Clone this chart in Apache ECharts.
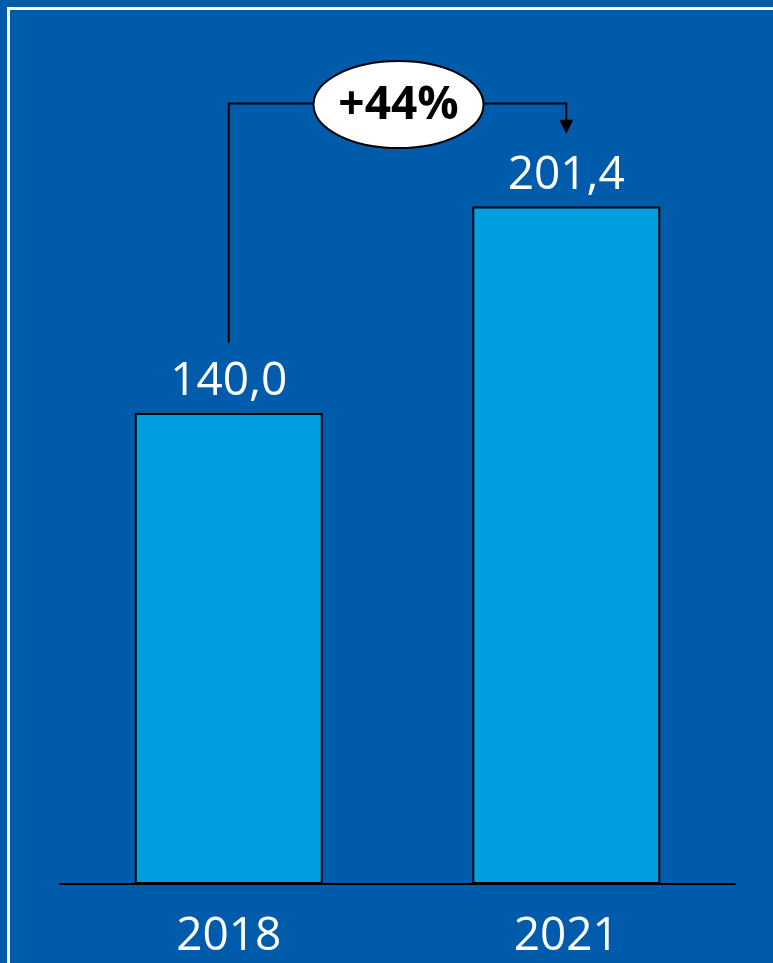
<!DOCTYPE html>
<html>
<head>
<meta charset="utf-8">
<script src="https://cdn.jsdelivr.net/npm/echarts@6/dist/echarts.min.js"></script>
<style>
html,body{margin:0;padding:0;background:#005BAA;}
#c{width:773px;height:963px;}
</style>
</head>
<body>
<div id="c"></div>
<script>
const categories = ['2018', '2021'];
const values = [140.0, 201.4];
const valueLabels = ['140,0', '201,4'];
const growthLabel = '+44%';
// annotation levels in value units
const bracketLow = 161;
const bracketHigh = 232;
const arrowTip = 223;

const FONT = '"Open Sans", "Liberation Sans", sans-serif';
const chart = echarts.init(document.getElementById('c'), null, {renderer: 'canvas'});

const option = {
  backgroundColor: '#005BAA',
  animation: false,
  grid: {left: 60, right: 38, top: 43, bottom: 79, containLabel: false},
  xAxis: {
    type: 'category',
    data: categories,
    axisLine: {lineStyle: {color: '#000', width: 2}},
    axisTick: {show: false},
    axisLabel: {color: '#fff', fontSize: 46, fontFamily: FONT, margin: 30}
  },
  yAxis: {
    type: 'value', min: 0, max: 250, show: false,
    splitLine: {show: false}
  },
  series: [{
    type: 'bar',
    data: values,
    barWidth: 188,
    itemStyle: {color: '#009FDF', borderColor: '#000', borderWidth: 2},
    label: {
      show: true, position: 'top', distance: 8,
      color: '#fff', fontSize: 46, fontFamily: FONT,
      formatter: p => valueLabels[p.dataIndex]
    }
  }]
};
chart.setOption(option);

function px(cat, val) { return chart.convertToPixel({gridIndex: 0}, [cat, val]); }
const pLow = px(categories[0], bracketLow);
const pHigh1 = px(categories[0], bracketHigh);
const pHigh2 = px(categories[1], bracketHigh);
const pTip = px(categories[1], arrowTip);
const midX = (pHigh1[0] + pHigh2[0]) / 2 + 1;
const hy = pHigh1[1];

chart.setOption({
  graphic: [
    {type: 'rect', shape: {x: 8.5, y: 8.5, width: 2000, height: 2000},
     style: {fill: 'none', stroke: '#fff', lineWidth: 3}, silent: true},
    {type: 'polyline', shape: {points: [[pLow[0], pLow[1]], [pLow[0], hy], [pHigh2[0], hy], [pHigh2[0], pTip[1] - 13]]},
     style: {fill: 'none', stroke: '#000', lineWidth: 2}},
    {type: 'polygon', shape: {points: [[pHigh2[0] - 7, pTip[1] - 14], [pHigh2[0] + 7, pTip[1] - 14], [pHigh2[0], pTip[1]]]},
     style: {fill: '#000'}},
    {type: 'ellipse', shape: {cx: midX, cy: hy + 1, rx: 85, ry: 43.5},
     style: {fill: '#fff', stroke: '#000', lineWidth: 2}},
    {type: 'text', x: midX, y: hy + 2,
     style: {text: growthLabel, fill: '#000', font: 'bold 46px ' + FONT, align: 'center', verticalAlign: 'middle'}}
  ]
});
</script>
</body>
</html>
